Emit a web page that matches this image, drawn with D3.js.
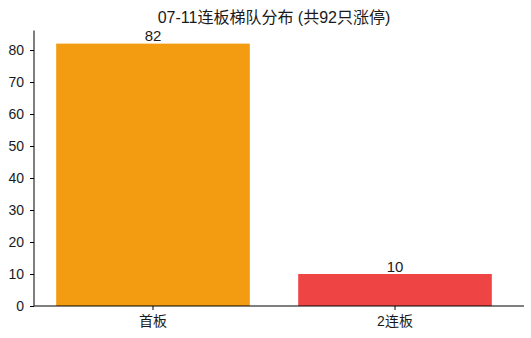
<!DOCTYPE html>
<meta charset="utf-8">
<script src="https://cdn.jsdelivr.net/npm/d3@7"></script>
<style>
  body { margin: 0; background: #fff; }
  svg text { font-family: "Liberation Sans", Arial, "Noto Sans CJK SC", sans-serif; fill: #1a1a1a; }
  .axis path, .axis line { stroke: #000; }
</style>
<body>
<div id="viz"></div>
<script>
  const title = "07-11连板梯队分布 (共92只涨停)"
  const categories = ["首板", "2连板"]
  const counts = [82, 10]
  const colors = ["#F39C12", "#EF4444"]
  const yTicks = [0, 10, 20, 30, 40, 50, 60, 70, 80]

  const width = 531, height = 338
  const mLeft = 34, mRight = 514, mTop = 30.5, mBottom = 306
  const axisEnd = 524

  const svg = d3.select("#viz").append("svg")
    .attr("width", width)
    .attr("height", height)

  const x = d3.scaleBand()
    .domain(categories)
    .range([mLeft, mRight])
    .paddingInner(0.2)
    .paddingOuter(0.0917)

  const y = d3.scaleLinear()
    .domain([0, 86.1])
    .range([mBottom, mTop])

  // bars
  svg.selectAll("rect.bar")
    .data(categories)
    .enter().append("rect")
    .attr("class", "bar")
    .attr("x", d => x(d))
    .attr("width", x.bandwidth())
    .attr("y", (d, i) => y(counts[i]))
    .attr("height", (d, i) => mBottom - y(counts[i]))
    .attr("fill", (d, i) => colors[i])

  // value labels
  svg.selectAll("text.val")
    .data(categories)
    .enter().append("text")
    .attr("class", "val")
    .attr("x", d => x(d) + x.bandwidth() / 2)
    .attr("y", (d, i) => y(counts[i]) - 2.5)
    .attr("text-anchor", "middle")
    .attr("font-size", 15)
    .text((d, i) => counts[i])

  // y axis
  const yAxis = svg.append("g")
    .attr("class", "axis")
    .attr("transform", `translate(${mLeft},0)`)
    .call(d3.axisLeft(y).tickValues(yTicks).tickSize(4).tickPadding(6).tickSizeOuter(0))
  yAxis.selectAll("text").attr("font-size", 14)
  yAxis.select(".domain").attr("d", `M0,${mBottom}V${mTop}`)

  // x axis
  const xAxis = svg.append("g")
    .attr("class", "axis")
    .attr("transform", `translate(0,${mBottom})`)
    .call(d3.axisBottom(x).tickSize(4).tickPadding(6).tickSizeOuter(0))
  xAxis.selectAll("text").attr("font-size", 14)
  xAxis.select(".domain").attr("d", `M${mLeft},0H${axisEnd}`)

  svg.selectAll(".axis text").attr("font-family", null).attr("fill", "#1a1a1a")

  // title
  svg.append("text")
    .attr("x", (mLeft + mRight) / 2)
    .attr("y", 23)
    .attr("text-anchor", "middle")
    .attr("font-size", 16)
    .text(title)
</script>
</body>
